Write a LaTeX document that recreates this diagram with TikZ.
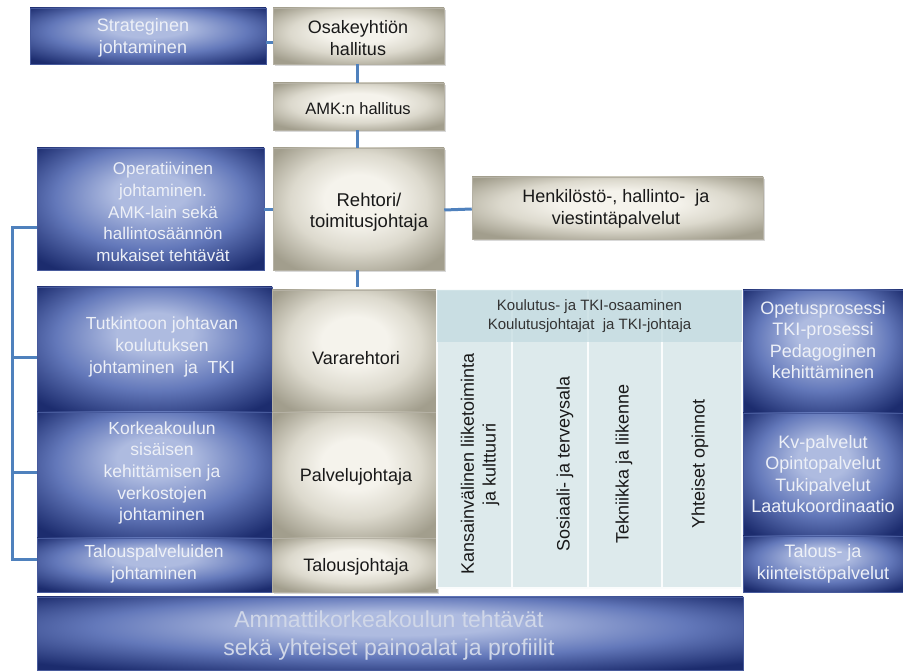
\documentclass[tikz,border=0pt]{standalone}
\usepackage{fontspec}
\setmainfont{Liberation Sans}
\usetikzlibrary{shadows}
\definecolor{bxlight}{HTML}{AEBBE0}
\definecolor{bxmid}{HTML}{6378BA}
\definecolor{bxdark}{HTML}{1C2C6E}
\definecolor{bglight}{HTML}{F5F3EC}
\definecolor{bgmid}{HTML}{DCD9CD}
\definecolor{bgdark}{HTML}{A29E8D}
\definecolor{conn}{HTML}{4F81BD}
\definecolor{gridc}{HTML}{DDEAEC}
\definecolor{headc}{HTML}{C3DBE0}
\definecolor{txtlight}{HTML}{EDF0F7}
\definecolor{txtbottom}{HTML}{D0D7E8}
\pgfdeclareradialshading{bluesh}{\pgfqpoint{0bp}{8bp}}{color(0bp)=(bxlight); color(8bp)=(bxlight); color(21bp)=(bxmid); color(34bp)=(bxdark); color(50bp)=(bxdark)}
\pgfdeclareradialshading{beigesh}{\pgfqpoint{0bp}{5bp}}{color(0bp)=(bglight); color(10bp)=(bglight); color(20bp)=(bgmid); color(32bp)=(bgdark); color(50bp)=(bgdark)}
\newcommand\myfs[2]{\fontsize{#1}{#2}\selectfont}
\tikzset{
  bluebox/.style={rectangle, inner sep=0pt, shading=bluesh, draw=bxmid!60!bxdark, line width=0.6pt},
  beigebox/.style={rectangle, inner sep=0pt, shading=beigesh, draw=bgdark!80, line width=0.5pt,
     drop shadow={shadow xshift=1.5pt, shadow yshift=-2pt, opacity=0.3}},
  colbox/.style={rectangle, inner sep=0pt, fill=gridc, draw=white!85!gridc, line width=1.5pt},
  conline/.style={draw=conn, line width=3pt, line join=miter},
  wtxt/.style={inner sep=0pt, align=center, text=txtlight, font=\myfs{18}{21.7}},
  ktxt/.style={inner sep=0pt, align=center, text=black!90, font=\myfs{18}{21.7}},
}
\begin{document}
\begin{tikzpicture}[x=1pt,y=1pt]
\useasboundingbox (0,0) rectangle (903,670);
% ---------- boxes (shapes) ----------
\node[bluebox, minimum width=236, minimum height=56] (strat) at (148,634) {};
\node[beigebox, minimum width=171, minimum height=56] (osake) at (358.5,634) {};
\node[beigebox, minimum width=171, minimum height=47] (amk) at (358.5,563.5) {};
\node[bluebox, minimum width=227, minimum height=122] (oper) at (150.5,461) {};
\node[beigebox, minimum width=171, minimum height=122] (rehtori) at (358.5,461) {};
\node[beigebox, minimum width=291, minimum height=62] (henk) at (617.5,462) {};
% ---------- connectors ----------
\draw[conline] ([yshift=-7pt]strat.east) -- ([yshift=-7pt]osake.west);
\draw[conline] ([xshift=-1.5pt]osake.south) -- ([xshift=-1.5pt]amk.north);
\draw[conline] ([xshift=-1.5pt]amk.south) -- ([xshift=-1.5pt]rehtori.north);
\draw[conline] ([yshift=-1pt]oper.east) -- ([yshift=-1pt]rehtori.west);
\draw[conline] ([yshift=-1pt]rehtori.east) -- ([yshift=-1pt]henk.west);
% lower section
\node[bluebox, minimum width=235, minimum height=125] (tutk) at (154.5,320.5) {};
\node[bluebox, minimum width=235, minimum height=126] (korke) at (154.5,195) {};
\node[bluebox, minimum width=235, minimum height=54] (talousp) at (154.5,105) {};
\node[beigebox, minimum width=165, minimum height=122] (varar) at (354.5,319) {};
\node[beigebox, minimum width=165, minimum height=126] (palvel) at (354.5,195) {};
\node[beigebox, minimum width=165, minimum height=54] (talousj) at (354.5,105) {};
\draw[conline] ([xshift=-1.5pt]rehtori.south) -- ([xshift=-1.5pt]rehtori.south |- tutk.north);
% grid of columns
\node[colbox, minimum width=75, minimum height=298] (col1) at (474.5,231) {};
\node[colbox, minimum width=76, minimum height=298] (col2) at (550,231) {};
\node[colbox, minimum width=74, minimum height=298] (col3) at (625,231) {};
\node[colbox, minimum width=80, minimum height=298] (col4) at (702,231) {};
\node[rectangle, inner sep=0pt, fill=headc, fill opacity=0.75, minimum width=305, minimum height=52] (head) at (589.5,354) {};
\node[bluebox, minimum width=160, minimum height=122] (opetus) at (823,319) {};
\node[bluebox, minimum width=160, minimum height=124] (kv) at (823,195) {};
\node[bluebox, minimum width=160, minimum height=56] (talousk) at (823,106) {};
\node[bluebox, minimum width=706, minimum height=73] (bottom) at (390,36.5) {};
% left bracket
\coordinate (bt) at (12,442);
\coordinate (bb) at (12,110);
\coordinate (b2) at (12,312);
\coordinate (b3) at (12,197);
\draw[conline] (bt -| oper.west) -- (bt) -- (bb) -- (bb -| talousp.west);
\draw[conline] (b2) -- (b2 -| tutk.west);
\draw[conline] (b3) -- (b3 -| korke.west);
% ---------- texts ----------
\node[wtxt] (t-strat) at (143,632) {Strateginen\\johtaminen};
\node[ktxt] (t-osake) at (358,632) {Osakeyhtiön\\hallitus};
\node[ktxt, font=\myfs{16.5}{20}] (t-amk) at (358,561) {AMK:n hallitus};
\node[wtxt, font=\myfs{17}{21.7}] (t-oper) at (163,458) {Operatiivinen\\johtaminen.\\AMK-lain sekä\\hallintosäännön\\mukaiset tehtävät};
\node[ktxt, font=\myfs{18.5}{21}] (t-rehtori) at (369,458) {Rehtori/\\toimitusjohtaja};
\node[ktxt] (t-henk) at (616,461) {Henkilöstö-, hallinto-~ ja\\viestintäpalvelut};
\node[wtxt, font=\myfs{17.5}{21.7}] (t-tutk) at (162,323) {Tutkintoon johtavan\\koulutuksen\\johtaminen~ ja~ TKI};
\node[wtxt, font=\myfs{17.5}{21.7}] (t-korke) at (162,197) {Korkeakoulun\\sisäisen\\kehittämisen ja\\verkostojen\\johtaminen};
\node[wtxt, font=\myfs{17.5}{21.7}] (t-talousp) at (154,106) {Talouspalveluiden\\johtaminen};
\node[ktxt] (t-varar) at (356,312) {Vararehtori};
\node[ktxt] (t-palvel) at (356,193) {Palvelujohtaja};
\node[ktxt] (t-talousj) at (356,103) {Talousjohtaja};
\node[inner sep=0pt, align=center, text=black!80, font=\myfs{15}{18.3}] (t-head) at (589.5,354) {Koulutus- ja TKI-osaaminen\\Koulutusjohtajat~ ja TKI-johtaja};
\node[ktxt, rotate=90] (t-col1) at (480,206) {Kansainvälinen liiketoiminta\\ja kulttuuri};
\node[ktxt, rotate=90] (t-col2) at (565,206) {Sosiaali- ja terveysala};
\node[ktxt, rotate=90] (t-col3) at (624,206) {Tekniikka ja liikenne};
\node[ktxt, rotate=90] (t-col4) at (700,206) {Yhteiset opinnot};
\node[wtxt, font=\myfs{18}{21.5}] (t-opetus) at (823,330) {Opetusprosessi\\TKI-prosessi\\Pedagoginen\\kehittäminen};
\node[wtxt, font=\myfs{18}{21.5}] (t-kv) at (823,196) {Kv-palvelut\\Opintopalvelut\\Tukipalvelut\\Laatukoordinaatio};
\node[wtxt, font=\myfs{18}{21.5}] (t-talousk) at (823,106) {Talous- ja\\kiinteistöpalvelut};
\node[wtxt, text=txtbottom, font=\myfs{23}{28}] (t-bottom) at (389,34) {Ammattikorkeakoulun tehtävät\\sekä yhteiset painoalat ja profiilit};
\end{tikzpicture}
\end{document}
